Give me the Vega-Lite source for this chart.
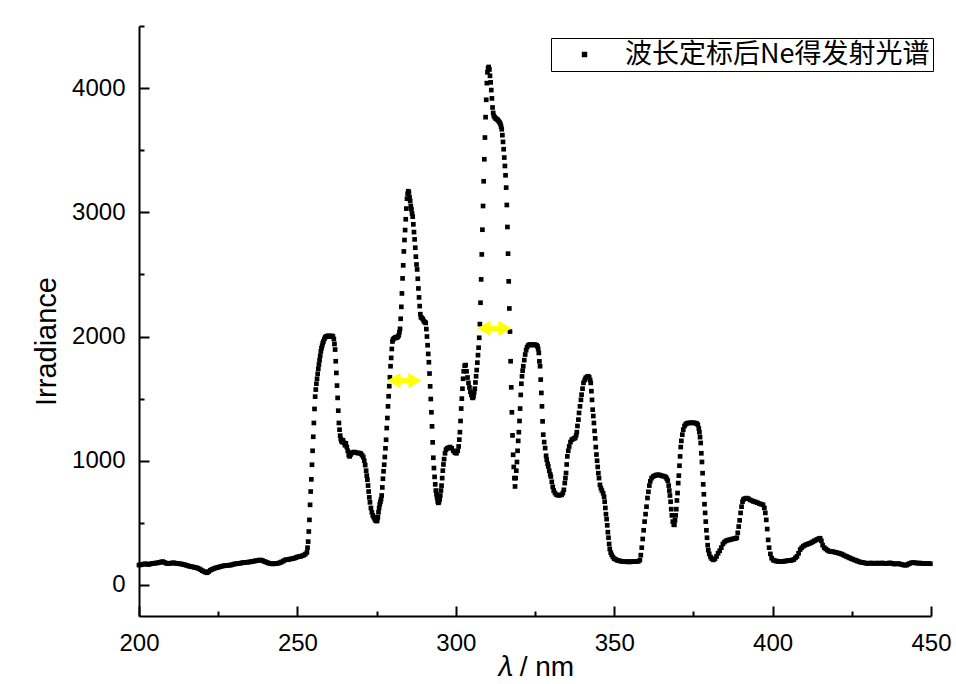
{
"$schema": "https://vega.github.io/schema/vega-lite/v6.json",
"autosize": "none",
"width": 792,
"height": 590,
"padding": {"left": 139, "top": 26, "right": 25, "bottom": 68},
"background": "white",
"config": {"view": {"stroke": null}, "font": "Liberation Sans"},
"layer": [
{
"data": {"values": [
{"wl":200,"irr":160},{"wl":200.5,"irr":162},{"wl":201,"irr":165},{"wl":201.5,"irr":168},{"wl":202,"irr":170},{"wl":202.5,"irr":168},{"wl":203,"irr":165},{"wl":203.5,"irr":168},{"wl":204,"irr":172},{"wl":204.5,"irr":174},{"wl":205,"irr":175},{"wl":205.5,"irr":177},{"wl":206,"irr":178},{"wl":206.5,"irr":182},{"wl":207,"irr":185},{"wl":207.5,"irr":188},{"wl":208,"irr":182},{"wl":208.5,"irr":176},{"wl":209,"irr":172},{"wl":209.5,"irr":173},{"wl":210,"irr":175},{"wl":210.5,"irr":177},{"wl":211,"irr":178},{"wl":211.5,"irr":175},{"wl":212,"irr":172},{"wl":212.5,"irr":171},{"wl":213,"irr":170},{"wl":213.5,"irr":168},{"wl":214,"irr":165},{"wl":214.5,"irr":162},{"wl":215,"irr":158},{"wl":215.5,"irr":154},{"wl":216,"irr":150},{"wl":216.5,"irr":148},{"wl":217,"irr":145},{"wl":217.5,"irr":142},{"wl":218,"irr":140},{"wl":218.5,"irr":135},{"wl":219,"irr":130},{"wl":219.5,"irr":122},{"wl":220,"irr":115},{"wl":220.5,"irr":108},{"wl":221,"irr":102},{"wl":221.5,"irr":98},{"wl":222,"irr":108},{"wl":222.5,"irr":118},{"wl":223,"irr":125},{"wl":223.5,"irr":130},{"wl":224,"irr":135},{"wl":224.5,"irr":139},{"wl":225,"irr":142},{"wl":225.5,"irr":146},{"wl":226,"irr":150},{"wl":226.5,"irr":153},{"wl":227,"irr":155},{"wl":227.5,"irr":157},{"wl":228,"irr":158},{"wl":228.5,"irr":159},{"wl":229,"irr":160},{"wl":229.5,"irr":164},{"wl":230,"irr":168},{"wl":230.5,"irr":170},{"wl":231,"irr":172},{"wl":231.5,"irr":174},{"wl":232,"irr":175},{"wl":232.5,"irr":178},{"wl":233,"irr":180},{"wl":233.5,"irr":181},{"wl":234,"irr":182},{"wl":234.5,"irr":184},{"wl":235,"irr":185},{"wl":235.5,"irr":188},{"wl":236,"irr":190},{"wl":236.5,"irr":193},{"wl":237,"irr":195},{"wl":237.5,"irr":198},{"wl":238,"irr":200},{"wl":238.5,"irr":200},{"wl":239,"irr":196},{"wl":239.5,"irr":190},{"wl":240,"irr":185},{"wl":240.5,"irr":180},{"wl":241,"irr":175},{"wl":241.5,"irr":172},{"wl":242,"irr":170},{"wl":242.5,"irr":170},{"wl":243,"irr":172},{"wl":243.5,"irr":173},{"wl":244,"irr":175},{"wl":244.5,"irr":180},{"wl":245,"irr":185},{"wl":245.5,"irr":192},{"wl":246,"irr":200},{"wl":246.5,"irr":203},{"wl":247,"irr":205},{"wl":247.5,"irr":207},{"wl":248,"irr":210},{"wl":248.5,"irr":212},{"wl":249,"irr":215},{"wl":249.5,"irr":220},{"wl":250,"irr":225},{"wl":250.5,"irr":228},{"wl":251,"irr":230},{"wl":251.5,"irr":235},{"wl":252,"irr":240},{"wl":252.5,"irr":248},{"wl":253,"irr":262},
{"wl":253.2,"irr":300},{"wl":253.4,"irr":349},{"wl":253.6,"irr":430},{"wl":253.8,"irr":524},{"wl":254,"irr":645},{"wl":254.2,"irr":752},{"wl":254.4,"irr":850},{"wl":254.6,"irr":968},{"wl":254.8,"irr":1080},{"wl":255,"irr":1193},{"wl":255.2,"irr":1304},{"wl":255.4,"irr":1417},{"wl":255.6,"irr":1516},{"wl":255.8,"irr":1573},{"wl":256,"irr":1620},{"wl":256.2,"irr":1660},{"wl":256.4,"irr":1700},{"wl":256.6,"irr":1740},{"wl":256.8,"irr":1775},{"wl":257,"irr":1810},{"wl":257.2,"irr":1845},{"wl":257.4,"irr":1880},{"wl":257.6,"irr":1905},{"wl":257.8,"irr":1925},{"wl":258,"irr":1945},{"wl":258.2,"irr":1960},{"wl":258.5,"irr":1980},{"wl":258.8,"irr":1995},{"wl":259.1,"irr":2000},{"wl":259.4,"irr":2003},{"wl":259.7,"irr":2005},{"wl":260,"irr":2003},{"wl":260.3,"irr":2000},{"wl":260.6,"irr":2003},{"wl":260.9,"irr":2005},{"wl":261.2,"irr":2000},{"wl":261.5,"irr":1980},{"wl":261.7,"irr":1940},{"wl":261.9,"irr":1895},{"wl":262.1,"irr":1801},{"wl":262.3,"irr":1707},{"wl":262.5,"irr":1605},{"wl":262.7,"irr":1506},{"wl":262.9,"irr":1403},{"wl":263.1,"irr":1304},{"wl":263.3,"irr":1250},{"wl":263.5,"irr":1202},{"wl":263.7,"irr":1175},{"wl":263.9,"irr":1160},{"wl":264.1,"irr":1150},{"wl":264.4,"irr":1165},{"wl":264.7,"irr":1145},{"wl":265,"irr":1125},{"wl":265.3,"irr":1140},{"wl":265.6,"irr":1110},{"wl":265.9,"irr":1080},{"wl":266.2,"irr":1045},{"wl":266.5,"irr":1035},{"wl":266.8,"irr":1050},{"wl":267.1,"irr":1062},{"wl":267.5,"irr":1068},{"wl":268,"irr":1070},{"wl":268.5,"irr":1065},{"wl":269,"irr":1062},{"wl":269.5,"irr":1062},{"wl":270,"irr":1058},{"wl":270.4,"irr":1045},{"wl":270.8,"irr":1030},{"wl":271.1,"irr":1000},{"wl":271.4,"irr":965},{"wl":271.7,"irr":920},{"wl":271.9,"irr":880},{"wl":272.1,"irr":847},{"wl":272.3,"irr":800},{"wl":272.5,"irr":752},{"wl":272.7,"irr":705},{"wl":272.9,"irr":665},{"wl":273.2,"irr":620},{"wl":273.5,"irr":585},{"wl":273.8,"irr":560},{"wl":274.1,"irr":545},{"wl":274.4,"irr":530},{"wl":274.7,"irr":518},{"wl":275,"irr":514},{"wl":275.2,"irr":520},{"wl":275.4,"irr":545},{"wl":275.6,"irr":585},{"wl":275.8,"irr":620},{"wl":276,"irr":650},{"wl":276.2,"irr":670},{"wl":276.4,"irr":690},{"wl":276.6,"irr":720},{"wl":276.8,"irr":785},{"wl":277,"irr":855},{"wl":277.2,"irr":915},{"wl":277.4,"irr":968},{"wl":277.6,"irr":1030},{"wl":277.8,"irr":1100},{"wl":278,"irr":1169},{"wl":278.2,"irr":1263},{"wl":278.4,"irr":1344},{"wl":278.6,"irr":1438},{"wl":278.8,"irr":1519},{"wl":279,"irr":1600},{"wl":279.2,"irr":1672},{"wl":279.4,"irr":1761},{"wl":279.6,"irr":1828},{"wl":279.8,"irr":1900},{"wl":280,"irr":1960},{"wl":280.2,"irr":1976},{"wl":280.5,"irr":1985},{"wl":280.8,"irr":1990},{"wl":281.1,"irr":1995},{"wl":281.4,"irr":1990},{"wl":281.7,"irr":1998},{"wl":282,"irr":2010},{"wl":282.2,"irr":2035},{"wl":282.4,"irr":2062},{"wl":282.6,"irr":2143},{"wl":282.8,"irr":2239},{"wl":283,"irr":2347},{"wl":283.2,"irr":2468},{"wl":283.4,"irr":2573},{"wl":283.6,"irr":2685},{"wl":283.8,"irr":2777},{"wl":284,"irr":2857},{"wl":284.2,"irr":2944},{"wl":284.4,"irr":3030},{"wl":284.6,"irr":3110},{"wl":284.8,"irr":3150},{"wl":285,"irr":3170},{"wl":285.2,"irr":3160},{"wl":285.4,"irr":3120},{"wl":285.6,"irr":3091},{"wl":285.8,"irr":3050},{"wl":286,"irr":3024},{"wl":286.2,"irr":2990},{"wl":286.4,"irr":2965},{"wl":286.6,"irr":2903},{"wl":286.8,"irr":2841},{"wl":287,"irr":2782},{"wl":287.2,"irr":2715},{"wl":287.4,"irr":2643},{"wl":287.6,"irr":2580},{"wl":287.8,"irr":2540},{"wl":288,"irr":2465},{"wl":288.2,"irr":2387},{"wl":288.4,"irr":2315},{"wl":288.6,"irr":2245},{"wl":288.8,"irr":2180},{"wl":289,"irr":2155},{"wl":289.3,"irr":2150},{"wl":289.6,"irr":2140},{"wl":289.9,"irr":2124},{"wl":290.2,"irr":2116},{"wl":290.5,"irr":2110},{"wl":290.7,"irr":2060},{"wl":290.9,"irr":2000},{"wl":291.1,"irr":1930},{"wl":291.3,"irr":1860},{"wl":291.5,"irr":1793},{"wl":291.7,"irr":1702},{"wl":291.9,"irr":1599},{"wl":292.1,"irr":1497},{"wl":292.3,"irr":1390},{"wl":292.5,"irr":1277},{"wl":292.7,"irr":1148},{"wl":292.9,"irr":1024},{"wl":293.1,"irr":941},{"wl":293.3,"irr":870},{"wl":293.5,"irr":810},{"wl":293.7,"irr":760},{"wl":293.9,"irr":730},{"wl":294.1,"irr":700},{"wl":294.3,"irr":672},{"wl":294.5,"irr":661},{"wl":294.7,"irr":668},{"wl":294.9,"irr":690},{"wl":295.1,"irr":720},{"wl":295.3,"irr":760},{"wl":295.5,"irr":800},{"wl":295.7,"irr":860},{"wl":295.9,"irr":920},{"wl":296.1,"irr":970},{"wl":296.3,"irr":1013},{"wl":296.6,"irr":1060},{"wl":296.9,"irr":1089},{"wl":297.3,"irr":1100},{"wl":297.7,"irr":1105},{"wl":298.2,"irr":1110},{"wl":298.7,"irr":1100},{"wl":299.2,"irr":1080},{"wl":299.7,"irr":1065},{"wl":300.2,"irr":1060},{"wl":300.6,"irr":1080},{"wl":300.9,"irr":1115},{"wl":301.1,"irr":1170},{"wl":301.3,"irr":1230},{"wl":301.5,"irr":1320},{"wl":301.7,"irr":1420},{"wl":301.9,"irr":1500},{"wl":302.1,"irr":1580},{"wl":302.3,"irr":1660},{"wl":302.5,"irr":1720},{"wl":302.8,"irr":1765},{"wl":303.1,"irr":1770},{"wl":303.4,"irr":1720},{"wl":303.7,"irr":1670},{"wl":304,"irr":1627},{"wl":304.3,"irr":1590},{"wl":304.6,"irr":1555},{"wl":304.9,"irr":1530},{"wl":305.2,"irr":1510},{"wl":305.4,"irr":1506},{"wl":305.6,"irr":1520},{"wl":305.8,"irr":1550},{"wl":306,"irr":1580},{"wl":306.2,"irr":1630},{"wl":306.4,"irr":1680},{"wl":306.6,"irr":1730},{"wl":306.8,"irr":1790},{"wl":307,"irr":1850},{"wl":307.2,"irr":1910},{"wl":307.4,"irr":1990},{"wl":307.6,"irr":2100},{"wl":307.8,"irr":2272},{"wl":308,"irr":2460},{"wl":308.2,"irr":2661},{"wl":308.4,"irr":2860},{"wl":308.6,"irr":3051},{"wl":308.8,"irr":3250},{"wl":309,"irr":3427},{"wl":309.2,"irr":3602},{"wl":309.4,"irr":3766},{"wl":309.6,"irr":3906},{"wl":309.8,"irr":4040},{"wl":310,"irr":4127},{"wl":310.2,"irr":4160},{"wl":310.4,"irr":4170},{"wl":310.6,"irr":4150},{"wl":310.8,"irr":4099},{"wl":311,"irr":4046},{"wl":311.2,"irr":3984},{"wl":311.4,"irr":3917},{"wl":311.6,"irr":3844},{"wl":311.8,"irr":3800},{"wl":312,"irr":3777},{"wl":312.3,"irr":3765},{"wl":312.6,"irr":3755},{"wl":312.9,"irr":3750},{"wl":313.2,"irr":3745},{"wl":313.5,"irr":3735},{"wl":313.8,"irr":3725},{"wl":314.1,"irr":3710},{"wl":314.3,"irr":3690},{"wl":314.5,"irr":3669},{"wl":314.7,"irr":3621},{"wl":314.9,"irr":3567},{"wl":315.1,"irr":3508},{"wl":315.3,"irr":3441},{"wl":315.5,"irr":3373},{"wl":315.7,"irr":3298},{"wl":315.9,"irr":3199},{"wl":316.1,"irr":3059},{"wl":316.3,"irr":2882},{"wl":316.5,"irr":2667},{"wl":316.7,"irr":2444},{"wl":316.9,"irr":2226},{"wl":317.1,"irr":2040},{"wl":317.3,"irr":1801},{"wl":317.5,"irr":1591},{"wl":317.7,"irr":1390},{"wl":317.9,"irr":1204},{"wl":318.1,"irr":1048},{"wl":318.3,"irr":950},{"wl":318.5,"irr":860},{"wl":318.7,"irr":793},{"wl":318.9,"irr":860},{"wl":319.1,"irr":920},{"wl":319.3,"irr":990},{"wl":319.5,"irr":1080},{"wl":319.7,"irr":1160},{"wl":319.9,"irr":1230},{"wl":320.1,"irr":1320},{"wl":320.3,"irr":1420},{"wl":320.5,"irr":1530},{"wl":320.7,"irr":1620},{"wl":320.9,"irr":1680},{"wl":321.1,"irr":1725},{"wl":321.3,"irr":1761},{"wl":321.6,"irr":1810},{"wl":321.9,"irr":1855},{"wl":322.2,"irr":1890},{"wl":322.5,"irr":1915},{"wl":322.9,"irr":1930},{"wl":323.3,"irr":1935},{"wl":323.7,"irr":1935},{"wl":324.1,"irr":1930},{"wl":324.5,"irr":1935},{"wl":325,"irr":1935},{"wl":325.5,"irr":1930},{"wl":325.8,"irr":1920},{"wl":326,"irr":1900},{"wl":326.2,"irr":1868},{"wl":326.4,"irr":1800},{"wl":326.6,"irr":1761},{"wl":326.8,"irr":1653},{"wl":327,"irr":1546},{"wl":327.2,"irr":1438},{"wl":327.4,"irr":1317},{"wl":327.6,"irr":1210},{"wl":327.9,"irr":1150},{"wl":328.2,"irr":1102},{"wl":328.5,"irr":1040},{"wl":328.7,"irr":1008},{"wl":329,"irr":975},{"wl":329.2,"irr":954},{"wl":329.5,"irr":920},{"wl":329.8,"irr":890},{"wl":330,"irr":873},{"wl":330.3,"irr":830},{"wl":330.6,"irr":790},{"wl":330.9,"irr":760},{"wl":331.3,"irr":740},{"wl":331.8,"irr":726},{"wl":332.3,"irr":722},{"wl":332.8,"irr":722},{"wl":333.4,"irr":726},{"wl":333.8,"irr":740},{"wl":334.1,"irr":766},{"wl":334.4,"irr":820},{"wl":334.6,"irr":860},{"wl":334.8,"irr":901},{"wl":335,"irr":970},{"wl":335.2,"irr":1035},{"wl":335.5,"irr":1080},{"wl":335.8,"irr":1115},{"wl":336.2,"irr":1150},{"wl":336.6,"irr":1169},{"wl":337,"irr":1175},{"wl":337.4,"irr":1180},{"wl":337.7,"irr":1185},{"wl":338,"irr":1205},{"wl":338.2,"irr":1230},{"wl":338.4,"irr":1280},{"wl":338.7,"irr":1331},{"wl":338.9,"irr":1385},{"wl":339.2,"irr":1438},{"wl":339.5,"irr":1490},{"wl":339.7,"irr":1532},{"wl":340,"irr":1580},{"wl":340.3,"irr":1627},{"wl":340.7,"irr":1650},{"wl":341,"irr":1667},{"wl":341.4,"irr":1675},{"wl":341.8,"irr":1680},{"wl":342.1,"irr":1672},{"wl":342.4,"irr":1650},{"wl":342.6,"irr":1627},{"wl":342.8,"irr":1560},{"wl":343,"irr":1490},{"wl":343.2,"irr":1411},{"wl":343.4,"irr":1360},{"wl":343.6,"irr":1304},{"wl":343.8,"irr":1240},{"wl":344,"irr":1180},{"wl":344.2,"irr":1110},{"wl":344.4,"irr":1050},{"wl":344.6,"irr":1000},{"wl":344.8,"irr":950},{"wl":345,"irr":900},{"wl":345.2,"irr":860},{"wl":345.5,"irr":806},{"wl":345.8,"irr":780},{"wl":346.1,"irr":760},{"wl":346.5,"irr":739},{"wl":346.8,"irr":710},{"wl":347,"irr":670},{"wl":347.2,"irr":620},{"wl":347.4,"irr":570},{"wl":347.6,"irr":530},{"wl":347.8,"irr":480},{"wl":348,"irr":425},{"wl":348.2,"irr":380},{"wl":348.4,"irr":330},{"wl":348.6,"irr":290},{"wl":348.9,"irr":260},{"wl":349.2,"irr":242},{"wl":349.6,"irr":225},{"wl":350,"irr":212},{"wl":350.5,"irr":205},{"wl":351,"irr":198},{"wl":351.5,"irr":195},{"wl":352,"irr":192},{"wl":352.5,"irr":190},{"wl":353,"irr":188},{"wl":353.5,"irr":188},{"wl":354,"irr":186},{"wl":354.5,"irr":188},{"wl":355,"irr":185},{"wl":355.5,"irr":188},{"wl":356,"irr":188},{"wl":356.5,"irr":190},{"wl":357,"irr":188},{"wl":357.6,"irr":190},{"wl":358.1,"irr":200},{"wl":358.4,"irr":240},{"wl":358.7,"irr":300},{"wl":359,"irr":370},{"wl":359.3,"irr":440},{"wl":359.6,"irr":510},{"wl":359.9,"irr":570},{"wl":360.2,"irr":630},{"wl":360.5,"irr":700},{"wl":360.8,"irr":750},{"wl":361.1,"irr":800},{"wl":361.4,"irr":835},{"wl":361.8,"irr":860},{"wl":362.3,"irr":873},{"wl":362.8,"irr":880},{"wl":363.3,"irr":885},{"wl":363.8,"irr":887},{"wl":364.3,"irr":885},{"wl":364.8,"irr":880},{"wl":365.3,"irr":877},{"wl":365.8,"irr":875},{"wl":366.3,"irr":868},{"wl":366.6,"irr":855},{"wl":366.9,"irr":840},{"wl":367.2,"irr":800},{"wl":367.4,"irr":760},{"wl":367.6,"irr":720},{"wl":367.8,"irr":670},{"wl":368,"irr":610},{"wl":368.2,"irr":560},{"wl":368.5,"irr":510},{"wl":368.8,"irr":485},{"wl":369,"irr":484},{"wl":369.2,"irr":520},{"wl":369.4,"irr":560},{"wl":369.6,"irr":610},{"wl":369.8,"irr":680},{"wl":370,"irr":740},{"wl":370.2,"irr":820},{"wl":370.4,"irr":880},{"wl":370.6,"irr":960},{"wl":370.8,"irr":1035},{"wl":371,"irr":1110},{"wl":371.2,"irr":1160},{"wl":371.5,"irr":1210},{"wl":371.8,"irr":1250},{"wl":372.2,"irr":1280},{"wl":372.6,"irr":1295},{"wl":373,"irr":1302},{"wl":373.5,"irr":1304},{"wl":374,"irr":1305},{"wl":374.5,"irr":1306},{"wl":375,"irr":1305},{"wl":375.5,"irr":1304},{"wl":376,"irr":1300},{"wl":376.4,"irr":1290},{"wl":376.7,"irr":1260},{"wl":376.9,"irr":1230},{"wl":377.1,"irr":1190},{"wl":377.3,"irr":1143},{"wl":377.5,"irr":1060},{"wl":377.7,"irr":990},{"wl":377.9,"irr":900},{"wl":378.1,"irr":810},{"wl":378.3,"irr":730},{"wl":378.5,"irr":650},{"wl":378.7,"irr":580},{"wl":378.9,"irr":510},{"wl":379.1,"irr":440},{"wl":379.3,"irr":380},{"wl":379.5,"irr":320},{"wl":379.7,"irr":280},{"wl":380,"irr":250},{"wl":380.4,"irr":225},{"wl":380.8,"irr":210},{"wl":381.3,"irr":202},{"wl":381.8,"irr":210},{"wl":382.3,"irr":230},{"wl":382.8,"irr":255},{"wl":383.3,"irr":275},{"wl":383.8,"irr":300},{"wl":384.3,"irr":330},{"wl":384.8,"irr":345},{"wl":385.3,"irr":355},{"wl":385.8,"irr":360},{"wl":386.3,"irr":363},{"wl":386.8,"irr":366},{"wl":387.3,"irr":370},{"wl":387.8,"irr":372},{"wl":388.3,"irr":374},{"wl":388.7,"irr":380},{"wl":389,"irr":420},{"wl":389.3,"irr":470},{"wl":389.6,"irr":520},{"wl":389.9,"irr":580},{"wl":390.2,"irr":630},{"wl":390.5,"irr":670},{"wl":390.8,"irr":688},{"wl":391.2,"irr":695},{"wl":391.8,"irr":699},{"wl":392.3,"irr":695},{"wl":392.9,"irr":685},{"wl":393.5,"irr":678},{"wl":394,"irr":672},{"wl":394.6,"irr":668},{"wl":395.2,"irr":662},{"wl":395.8,"irr":655},{"wl":396.4,"irr":650},{"wl":397,"irr":645},{"wl":397.4,"irr":620},{"wl":397.7,"irr":580},{"wl":398,"irr":524},{"wl":398.3,"irr":450},{"wl":398.6,"irr":363},{"wl":398.9,"irr":300},{"wl":399.3,"irr":250},{"wl":399.7,"irr":215},{"wl":400.2,"irr":200},{"wl":400.7,"irr":195},{"wl":401.2,"irr":192},{"wl":401.7,"irr":190},{"wl":402.2,"irr":188},{"wl":402.7,"irr":189},{"wl":403.2,"irr":190},{"wl":403.7,"irr":191},{"wl":404.2,"irr":193},{"wl":404.7,"irr":195},{"wl":405.2,"irr":196},{"wl":405.7,"irr":198},{"wl":406.2,"irr":200},{"wl":406.7,"irr":205},{"wl":407.2,"irr":218},{"wl":407.7,"irr":230},{"wl":408.2,"irr":255},{"wl":408.7,"irr":285},{"wl":409.2,"irr":300},{"wl":409.7,"irr":312},{"wl":410.2,"irr":320},{"wl":410.7,"irr":326},{"wl":411.2,"irr":330},{"wl":411.7,"irr":335},{"wl":412.2,"irr":340},{"wl":412.7,"irr":348},{"wl":413.2,"irr":355},{"wl":413.7,"irr":362},{"wl":414.2,"irr":368},{"wl":414.6,"irr":372},{"wl":415,"irr":376},{"wl":415.4,"irr":355},{"wl":415.8,"irr":320},{"wl":416.3,"irr":300},{"wl":416.8,"irr":290},{"wl":417.3,"irr":280},{"wl":417.8,"irr":272},{"wl":418.3,"irr":270},{"wl":418.8,"irr":268},{"wl":419.3,"irr":266},{"wl":419.8,"irr":263},{"wl":420.3,"irr":260},{"wl":420.8,"irr":256},{"wl":421.3,"irr":253},{"wl":421.8,"irr":248},{"wl":422.3,"irr":242},{"wl":422.8,"irr":235},{"wl":423.3,"irr":230},{"wl":423.8,"irr":224},{"wl":424.3,"irr":218},{"wl":424.8,"irr":212},{"wl":425.3,"irr":207},{"wl":425.8,"irr":202},{"wl":426.3,"irr":197},{"wl":426.8,"irr":192},{"wl":427.3,"irr":187},{"wl":427.8,"irr":183},{"wl":428.3,"irr":181},{"wl":428.8,"irr":179},{"wl":429.3,"irr":176},{"wl":429.8,"irr":173},{"wl":430.3,"irr":174},{"wl":430.8,"irr":176},{"wl":431.3,"irr":176},{"wl":431.8,"irr":174},{"wl":432.3,"irr":174},{"wl":432.8,"irr":176},{"wl":433.3,"irr":175},{"wl":433.8,"irr":174},{"wl":434.3,"irr":176},{"wl":434.8,"irr":176},{"wl":435.3,"irr":174},{"wl":435.8,"irr":172},{"wl":436.3,"irr":174},{"wl":436.8,"irr":177},{"wl":437.3,"irr":176},{"wl":437.8,"irr":173},{"wl":438.3,"irr":169},{"wl":438.8,"irr":169},{"wl":439.3,"irr":171},{"wl":439.8,"irr":171},{"wl":440.3,"irr":168},{"wl":440.8,"irr":164},{"wl":441.3,"irr":161},{"wl":441.8,"irr":159},{"wl":442.3,"irr":160},{"wl":442.8,"irr":167},{"wl":443.3,"irr":174},{"wl":443.8,"irr":178},{"wl":444.3,"irr":180},{"wl":444.8,"irr":179},{"wl":445.3,"irr":177},{"wl":445.8,"irr":175},{"wl":446.3,"irr":176},{"wl":446.8,"irr":175},{"wl":447.3,"irr":174},{"wl":447.8,"irr":174},{"wl":448.3,"irr":173},{"wl":448.8,"irr":172},{"wl":449.3,"irr":172},{"wl":449.8,"irr":171}
]},
"mark": {"type": "point", "filled": true, "size": 22, "opacity": 1, "color": "black", "strokeWidth": 0},
"encoding": {
"x": {"field": "wl", "type": "quantitative", "title": "𝜆 / nm",
"scale": {"domain": [200, 450], "nice": false, "zero": false},
"axis": {"values": [200,225,250,275,300,325,350,375,400,425,450], "format": "d",
"labelExpr": "datum.value % 50 === 0 ? datum.label : ''",
"tickSize": {"condition": {"test": "datum.value % 50 === 0", "value": -10}, "value": -5},
"tickWidth": 2, "tickColor": "black", "domainColor": "black", "domainWidth": 2, "grid": false,
"labelFont": "Liberation Sans", "labelFontSize": 24, "labelColor": "black", "labelPadding": 25, "labelFlush": false, "labelOverlap": false,
"titleFont": "Liberation Sans, DejaVu Sans, Noto Sans", "titleFontSize": 28, "titleFontWeight": "normal", "titleColor": "black", "titleY": 37, "titleBaseline": "top"}},
"y": {"field": "irr", "type": "quantitative", "title": "Irradiance",
"scale": {"domain": [-250, 4500], "nice": false, "zero": false},
"axis": {"values": [0,500,1000,1500,2000,2500,3000,3500,4000,4500], "format": "d",
"labelExpr": "datum.value % 1000 === 0 ? datum.label : ''",
"tickSize": {"condition": {"test": "datum.value % 1000 === 0", "value": -10}, "value": -5},
"tickWidth": 2, "tickColor": "black", "domainColor": "black", "domainWidth": 2, "grid": false,
"labelFont": "Liberation Sans", "labelFontSize": 24, "labelColor": "black", "labelPadding": 24, "labelOverlap": false, "labelFlush": false,
"titleFont": "Liberation Sans", "titleFontSize": 29, "titleFontWeight": "normal", "titleColor": "black", "titleX": -84, "titleY": 315, "titleBaseline": "alphabetic"}},
"shape": {"datum": "波长定标后Ne得发射光谱", "scale": {"range": ["square"]},
"legend": {"title": null, "orient": "none", "legendX": 412, "legendY": 12, "strokeColor": "black", "fillColor": "white", "padding": 3, "cornerRadius": 0,
"symbolType": "square", "symbolSize": 30, "symbolFillColor": "black", "symbolStrokeColor": "black", "symbolStrokeWidth": 0, "symbolOffset": 17,
"labelFont": "Noto Sans CJK SC", "labelFontSize": 27, "labelColor": "black", "labelOffset": 27, "labelLimit": 0}}
}
},
{
"data": {"values": [{"a": 280.5, "b": 287.1, "y": 1645}, {"a": 308.9, "b": 315.5, "y": 2065}]},
"mark": {"type": "rule", "color": "#ffff00", "strokeWidth": 5},
"encoding": {"x": {"field": "a", "type": "quantitative", "title": "𝜆 / nm"}, "x2": {"field": "b"}, "y": {"field": "y", "type": "quantitative", "title": "Irradiance"}}
},
{
"data": {"values": [{"a": 280.5, "b": 287.1, "y": 1645}, {"a": 308.9, "b": 315.5, "y": 2065}]},
"mark": {"type": "point", "shape": "triangle-left", "filled": true, "color": "#ffff00", "size": 230, "opacity": 1, "strokeWidth": 0},
"encoding": {"x": {"field": "a", "type": "quantitative", "title": "𝜆 / nm"}, "y": {"field": "y", "type": "quantitative", "title": "Irradiance"}}
},
{
"data": {"values": [{"a": 280.5, "b": 287.1, "y": 1645}, {"a": 308.9, "b": 315.5, "y": 2065}]},
"mark": {"type": "point", "shape": "triangle-right", "filled": true, "color": "#ffff00", "size": 230, "opacity": 1, "strokeWidth": 0},
"encoding": {"x": {"field": "b", "type": "quantitative", "title": "𝜆 / nm"}, "y": {"field": "y", "type": "quantitative", "title": "Irradiance"}}
}
]
}
